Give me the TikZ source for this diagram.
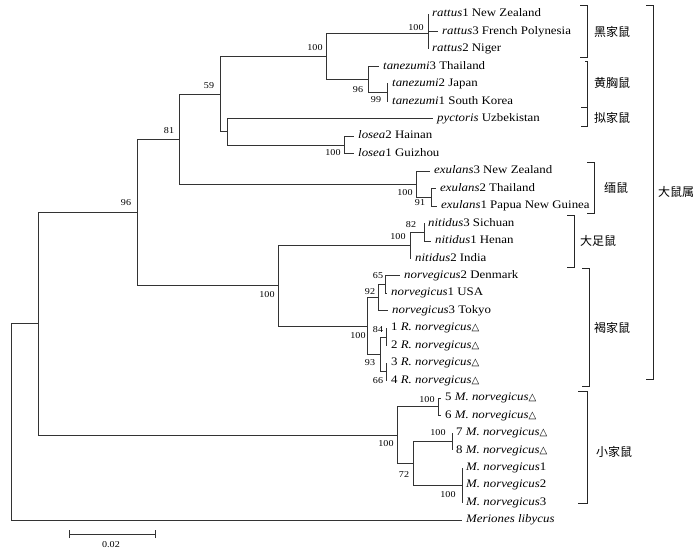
\documentclass[tikz,border=0pt]{standalone}
\usepackage{fontspec}
\setmainfont{Liberation Serif}[FakeStretch=1.12]
\newfontfamily\trifont{DejaVu Sans}
\newfontfamily\cjkfont{Noto Sans CJK SC}
\newcommand\tri{{\trifont\fontsize{10}{12}\selectfont △}}
\begin{document}
\begin{tikzpicture}[x=1pt,y=-1pt]
\tikzset{
 edge/.style={line width=0.75pt, draw=black!80},
 brk/.style={line width=0.75pt, draw=black!85},
 leaf/.style={anchor=west, inner xsep=4pt, inner ysep=0pt, font=\fontsize{11.5}{13}\selectfont, text height=7.5pt, text depth=2pt},
 bs/.style={inner sep=0pt, font=\fontsize{9}{10}\selectfont},
 grp/.style={inner sep=0pt, font=\cjkfont\fontsize{12}{14}\selectfont},
}
\useasboundingbox (0,0) rectangle (700,554);
% internal nodes
\coordinate (Rat) at (428,33);
\coordinate (T99) at (387,92.5);
\coordinate (Tan) at (368,79.4);
\coordinate (F) at (326,56);
\coordinate (Los) at (344,144.9);
\coordinate (G) at (227,131.8);
\coordinate (E) at (220,93.9);
\coordinate (X91) at (431,197.3);
\coordinate (X) at (416,184.2);
\coordinate (C) at (179,139);
\coordinate (N82) at (424,232.2);
\coordinate (Nit) at (410,245.2);
\coordinate (N65) at (385,284.5);
\coordinate (N92) at (378,297.6);
\coordinate (N84) at (386,336.9);
\coordinate (N66) at (386,371.8);
\coordinate (N93) at (380,354.3);
\coordinate (N100) at (367,326);
\coordinate (D) at (278,285.6);
\coordinate (B) at (137,212.3);
\coordinate (Ma) at (438,406.6);
\coordinate (M78) at (452,441.6);
\coordinate (Mm) at (462,485.2);
\coordinate (M72) at (413,463.4);
\coordinate (M) at (397,435);
\coordinate (A) at (38,323.7);
\coordinate (R) at (11,421.9);
% leaf tips
\coordinate (t0) at (428,14.0);
\coordinate (t1) at (438,31.5);
\coordinate (t2) at (428,48.9);
\coordinate (t3) at (379,66.4);
\coordinate (t4) at (388,83.8);
\coordinate (t5) at (388,101.3);
\coordinate (t6) at (433,118.7);
\coordinate (t7) at (354,136.2);
\coordinate (t8) at (354,153.6);
\coordinate (t9) at (430,171.1);
\coordinate (t10) at (436,188.5);
\coordinate (t11) at (437,206.0);
\coordinate (t12) at (424,223.4);
\coordinate (t13) at (431,240.9);
\coordinate (t14) at (411,258.3);
\coordinate (t15) at (400,275.8);
\coordinate (t16) at (387,293.2);
\coordinate (t17) at (388,310.7);
\coordinate (t18) at (387,328.1);
\coordinate (t19) at (387,345.6);
\coordinate (t20) at (387,363.0);
\coordinate (t21) at (387,380.5);
\coordinate (t22) at (441,397.9);
\coordinate (t23) at (441,415.4);
\coordinate (t24) at (452,432.8);
\coordinate (t25) at (452,450.3);
\coordinate (t26) at (462,467.7);
\coordinate (t27) at (462,485.2);
\coordinate (t28) at (462,502.6);
\coordinate (t29) at (462,520.1);
% edges
\foreach \p/\c in {R/A,R/t29,A/B,A/M,B/C,B/D,C/E,C/X,E/F,E/G,F/Rat,F/Tan,
  Rat/t0,Rat/t1,Rat/t2,Tan/t3,Tan/T99,T99/t4,T99/t5,G/t6,G/Los,Los/t7,Los/t8,
  X/t9,X/X91,X91/t10,X91/t11,D/Nit,D/N100,Nit/N82,Nit/t14,N82/t12,N82/t13,
  N100/N92,N100/N93,N92/N65,N92/t17,N65/t15,N65/t16,N93/N84,N93/N66,
  N84/t18,N84/t19,N66/t20,N66/t21,M/Ma,M/M72,Ma/t22,Ma/t23,M72/M78,M72/Mm,
  M78/t24,M78/t25,Mm/t26,Mm/t27,Mm/t28}
  \draw[edge] (\p) |- (\c);
% leaf labels
\node[leaf] (l0) at (t0) {\textit{rattus}1 New Zealand};
\node[leaf] (l1) at (t1) {\textit{rattus}3 French Polynesia};
\node[leaf] (l2) at (t2) {\textit{rattus}2 Niger};
\node[leaf] (l3) at (t3) {\textit{tanezumi}3 Thailand};
\node[leaf] (l4) at (t4) {\textit{tanezumi}2 Japan};
\node[leaf] (l5) at (t5) {\textit{tanezumi}1 South Korea};
\node[leaf] (l6) at (t6) {\textit{pyctoris} Uzbekistan};
\node[leaf] (l7) at (t7) {\textit{losea}2 Hainan};
\node[leaf] (l8) at (t8) {\textit{losea}1 Guizhou};
\node[leaf] (l9) at (t9) {\textit{exulans}3 New Zealand};
\node[leaf] (l10) at (t10) {\textit{exulans}2 Thailand};
\node[leaf] (l11) at (t11) {\textit{exulans}1 Papua New Guinea};
\node[leaf] (l12) at (t12) {\textit{nitidus}3 Sichuan};
\node[leaf] (l13) at (t13) {\textit{nitidus}1 Henan};
\node[leaf] (l14) at (t14) {\textit{nitidus}2 India};
\node[leaf] (l15) at (t15) {\textit{norvegicus}2 Denmark};
\node[leaf] (l16) at (t16) {\textit{norvegicus}1 USA};
\node[leaf] (l17) at (t17) {\textit{norvegicus}3 Tokyo};
\node[leaf] (l18) at (t18) {1 \textit{R. norvegicus}\tri};
\node[leaf] (l19) at (t19) {2 \textit{R. norvegicus}\tri};
\node[leaf] (l20) at (t20) {3 \textit{R. norvegicus}\tri};
\node[leaf] (l21) at (t21) {4 \textit{R. norvegicus}\tri};
\node[leaf] (l22) at (t22) {5 \textit{M. norvegicus}\tri};
\node[leaf] (l23) at (t23) {6 \textit{M. norvegicus}\tri};
\node[leaf] (l24) at (t24) {7 \textit{M. norvegicus}\tri};
\node[leaf] (l25) at (t25) {8 \textit{M. norvegicus}\tri};
\node[leaf] (l26) at (t26) {\textit{M. norvegicus}1};
\node[leaf] (l27) at (t27) {\textit{M. norvegicus}2};
\node[leaf] (l28) at (t28) {\textit{M. norvegicus}3};
\node[leaf] (l29) at (t29) {\textit{Meriones libycus}};
% bootstrap values
\node[bs] (b1) at (416,28) {100};
\node[bs] (b2) at (315,48) {100};
\node[bs] (b3) at (358,90) {96};
\node[bs] (b4) at (376,100) {99};
\node[bs] (b5) at (209,86) {59};
\node[bs] (b6) at (169,131) {81};
\node[bs] (b7) at (333,153) {100};
\node[bs] (b8) at (405,193) {100};
\node[bs] (b9) at (420,203) {91};
\node[bs] (b10) at (411,225) {82};
\node[bs] (b11) at (398,237) {100};
\node[bs] (b12) at (126,203) {96};
\node[bs] (b13) at (267,295) {100};
\node[bs] (b14) at (378,276) {65};
\node[bs] (b15) at (370,292) {92};
\node[bs] (b16) at (358,336) {100};
\node[bs] (b17) at (378,330) {84};
\node[bs] (b18) at (370,363) {93};
\node[bs] (b19) at (378,381) {66};
\node[bs] (b20) at (427,400) {100};
\node[bs] (b21) at (386,444) {100};
\node[bs] (b22) at (438,433) {100};
\node[bs] (b23) at (404,475) {72};
\node[bs] (b24) at (448,495) {100};
% scale bar
\coordinate (s1) at (69,534);
\coordinate (s2) at (155,534);
\draw[edge] (s1) -- (s2);
\draw[edge] ([yshift=-4pt]s1) -- ([yshift=4pt]s1);
\draw[edge] ([yshift=-4pt]s2) -- ([yshift=4pt]s2);
\node[bs] (sc) at (111,545) {0.02};
% group brackets
\draw[brk] (580,5) -- (587,5) -- (587,57) -- (580,57);
\node[grp] (g1) at (612,32) {黑家鼠};
\draw[brk] (585,61) -- (587,61) -- (587,107);
\node[grp] (g2) at (612,83) {黄胸鼠};
\draw[brk] (581,107) -- (587,107) -- (587,126) -- (581,126);
\node[grp] (g3) at (612,118) {拟家鼠};
\draw[brk] (587,162) -- (594,162) -- (594,213) -- (587,213);
\node[grp] (g4) at (616,188) {缅鼠};
\draw[brk] (567,215) -- (574,215) -- (574,267) -- (567,267);
\node[grp] (g5) at (598,241) {大足鼠};
\draw[brk] (582,268) -- (589,268) -- (589,386) -- (582,386);
\node[grp] (g6) at (612,328) {褐家鼠};
\draw[brk] (578,391) -- (587,391) -- (587,503) -- (578,503);
\node[grp] (g7) at (614,452) {小家鼠};
\draw[brk] (646,5) -- (653,5) -- (653,379) -- (646,379);
\node[grp] (g8) at (676,192) {大鼠属};
\end{tikzpicture}
\end{document}
